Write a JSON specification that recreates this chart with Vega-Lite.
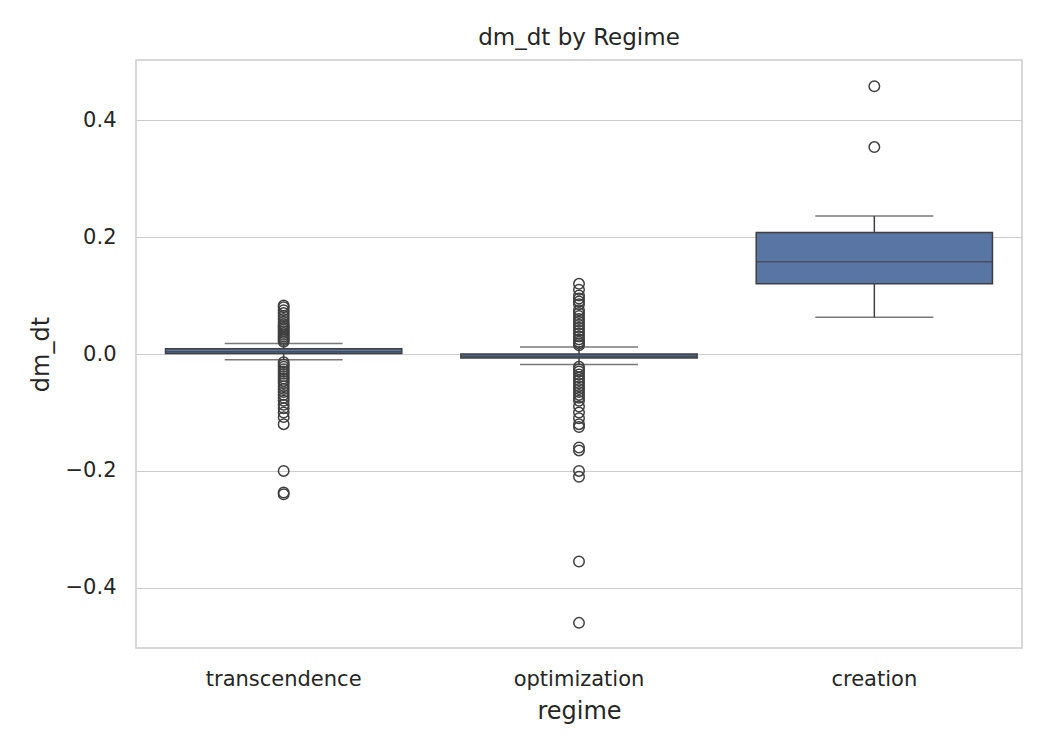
{
  "$schema": "https://vega.github.io/schema/vega-lite/v6.json",
  "width": 886,
  "height": 588,
  "autosize": "none",
  "padding": {"left": 136, "top": 60, "right": 28, "bottom": 102},
  "background": "white",
  "title": {"text": "dm_dt by Regime", "fontSize": 23, "fontWeight": "normal", "font": "DejaVu Sans", "color": "#262626", "offset": 10},
  "datasets": {
    "boxes": [
      {"regime": "transcendence", "lo": -0.010, "q1": 0.001, "median": 0.004, "q3": 0.009, "hi": 0.018},
      {"regime": "optimization", "lo": -0.018, "q1": -0.007, "median": -0.004, "q3": 0.0, "hi": 0.012},
      {"regime": "creation", "lo": 0.063, "q1": 0.120, "median": 0.158, "q3": 0.208, "hi": 0.236}
    ],
    "outliers": [
      {"regime": "transcendence", "v": 0.021}, {"regime": "transcendence", "v": 0.024}, {"regime": "transcendence", "v": 0.027},
      {"regime": "transcendence", "v": 0.030}, {"regime": "transcendence", "v": 0.033}, {"regime": "transcendence", "v": 0.036},
      {"regime": "transcendence", "v": 0.039}, {"regime": "transcendence", "v": 0.042}, {"regime": "transcendence", "v": 0.045},
      {"regime": "transcendence", "v": 0.048}, {"regime": "transcendence", "v": 0.051}, {"regime": "transcendence", "v": 0.055},
      {"regime": "transcendence", "v": 0.060}, {"regime": "transcendence", "v": 0.065}, {"regime": "transcendence", "v": 0.070},
      {"regime": "transcendence", "v": 0.075}, {"regime": "transcendence", "v": 0.080}, {"regime": "transcendence", "v": 0.083},
      {"regime": "transcendence", "v": -0.014}, {"regime": "transcendence", "v": -0.018}, {"regime": "transcendence", "v": -0.022},
      {"regime": "transcendence", "v": -0.026}, {"regime": "transcendence", "v": -0.030}, {"regime": "transcendence", "v": -0.034},
      {"regime": "transcendence", "v": -0.038}, {"regime": "transcendence", "v": -0.042}, {"regime": "transcendence", "v": -0.046},
      {"regime": "transcendence", "v": -0.050}, {"regime": "transcendence", "v": -0.055}, {"regime": "transcendence", "v": -0.060},
      {"regime": "transcendence", "v": -0.065}, {"regime": "transcendence", "v": -0.070}, {"regime": "transcendence", "v": -0.075},
      {"regime": "transcendence", "v": -0.080}, {"regime": "transcendence", "v": -0.087}, {"regime": "transcendence", "v": -0.093},
      {"regime": "transcendence", "v": -0.100}, {"regime": "transcendence", "v": -0.108}, {"regime": "transcendence", "v": -0.120},
      {"regime": "transcendence", "v": -0.200}, {"regime": "transcendence", "v": -0.237}, {"regime": "transcendence", "v": -0.240},
      {"regime": "optimization", "v": 0.015}, {"regime": "optimization", "v": 0.018}, {"regime": "optimization", "v": 0.021},
      {"regime": "optimization", "v": 0.025}, {"regime": "optimization", "v": 0.030}, {"regime": "optimization", "v": 0.035},
      {"regime": "optimization", "v": 0.040}, {"regime": "optimization", "v": 0.045}, {"regime": "optimization", "v": 0.050},
      {"regime": "optimization", "v": 0.055}, {"regime": "optimization", "v": 0.060}, {"regime": "optimization", "v": 0.065},
      {"regime": "optimization", "v": 0.070}, {"regime": "optimization", "v": 0.075}, {"regime": "optimization", "v": 0.085},
      {"regime": "optimization", "v": 0.090}, {"regime": "optimization", "v": 0.095}, {"regime": "optimization", "v": 0.100},
      {"regime": "optimization", "v": 0.110}, {"regime": "optimization", "v": 0.120},
      {"regime": "optimization", "v": -0.022}, {"regime": "optimization", "v": -0.026}, {"regime": "optimization", "v": -0.030},
      {"regime": "optimization", "v": -0.035}, {"regime": "optimization", "v": -0.040}, {"regime": "optimization", "v": -0.045},
      {"regime": "optimization", "v": -0.050}, {"regime": "optimization", "v": -0.055}, {"regime": "optimization", "v": -0.060},
      {"regime": "optimization", "v": -0.065}, {"regime": "optimization", "v": -0.070}, {"regime": "optimization", "v": -0.075},
      {"regime": "optimization", "v": -0.080}, {"regime": "optimization", "v": -0.090}, {"regime": "optimization", "v": -0.100},
      {"regime": "optimization", "v": -0.110}, {"regime": "optimization", "v": -0.120}, {"regime": "optimization", "v": -0.125},
      {"regime": "optimization", "v": -0.160}, {"regime": "optimization", "v": -0.165}, {"regime": "optimization", "v": -0.200},
      {"regime": "optimization", "v": -0.210}, {"regime": "optimization", "v": -0.355}, {"regime": "optimization", "v": -0.460},
      {"regime": "creation", "v": 0.354}, {"regime": "creation", "v": 0.458}
    ]
  },
  "encoding": {
    "x": {
      "field": "regime", "type": "nominal",
      "scale": {"domain": ["transcendence", "optimization", "creation"], "paddingInner": 0, "paddingOuter": 0},
      "axis": {"labelAngle": 0, "title": "regime", "ticks": false, "grid": false, "labelPadding": 20, "titlePadding": 10}
    }
  },
  "layer": [
    {
      "data": {"name": "boxes"},
      "mark": {"type": "rule", "color": "#3f3f3f", "strokeWidth": 1.5},
      "encoding": {
        "y": {"field": "lo", "type": "quantitative", "scale": {"domain": [-0.503, 0.503], "nice": false},
              "axis": {"title": "dm_dt", "values": [-0.4, -0.2, 0, 0.2, 0.4], "format": ".1f", "ticks": false, "labelPadding": 20, "titlePadding": 12}},
        "y2": {"field": "hi"}
      }
    },
    {
      "data": {"name": "boxes"},
      "mark": {"type": "tick", "orient": "horizontal", "size": 118, "thickness": 1.5, "color": "#3f3f3f"},
      "encoding": {"y": {"field": "lo", "type": "quantitative"}}
    },
    {
      "data": {"name": "boxes"},
      "mark": {"type": "tick", "orient": "horizontal", "size": 118, "thickness": 1.5, "color": "#3f3f3f"},
      "encoding": {"y": {"field": "hi", "type": "quantitative"}}
    },
    {
      "data": {"name": "boxes"},
      "mark": {"type": "bar", "width": {"band": 0.8}, "fill": "#5875a4", "stroke": "#3f3f3f", "strokeWidth": 1.5},
      "encoding": {"y": {"field": "q1", "type": "quantitative"}, "y2": {"field": "q3"}}
    },
    {
      "data": {"name": "boxes"},
      "mark": {"type": "tick", "orient": "horizontal", "size": 236, "thickness": 1.5, "color": "#3f3f3f"},
      "encoding": {"y": {"field": "median", "type": "quantitative"}}
    },
    {
      "data": {"name": "outliers"},
      "mark": {"type": "point", "shape": "circle", "filled": false, "size": 110, "stroke": "#3f3f3f", "strokeWidth": 1.5, "opacity": 1},
      "encoding": {"y": {"field": "v", "type": "quantitative"}}
    }
  ],
  "config": {
    "font": "DejaVu Sans",
    "view": {"stroke": "#cccccc", "strokeWidth": 1.5},
    "axis": {
      "labelFontSize": 21, "titleFontSize": 24, "titleFontWeight": "normal",
      "labelColor": "#262626", "titleColor": "#262626",
      "gridColor": "#cccccc", "gridWidth": 1.2, "domain": false
    }
  }
}
